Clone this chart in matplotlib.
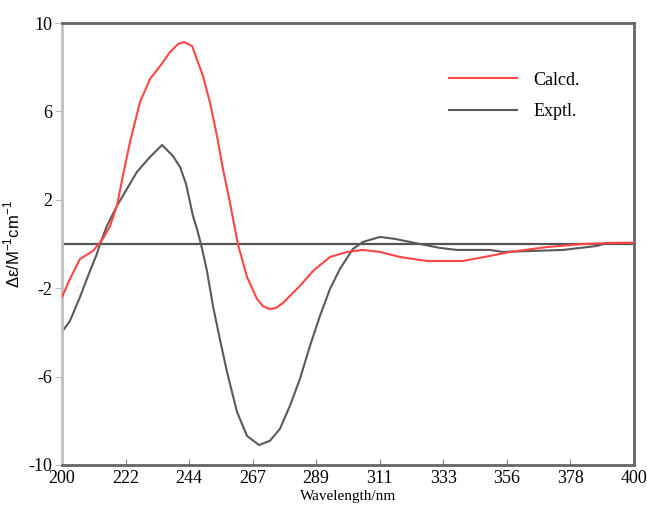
import numpy as np
import matplotlib.pyplot as plt

# 計算値 (Calcd.)
calcd_wl = [200, 202.8, 206.3, 210.8, 214.3, 216.8, 219.2, 221.3, 223.8, 227.3,
            230.8, 234.3, 237.8, 240.6, 242.7, 245.5, 249.3, 251.7, 254.2, 256.3,
            258.7, 261.5, 264.7, 268.2, 270.3, 272.4, 274.8, 277.3, 280.4, 283.2,
            287.8, 293.7, 299.7, 305.2, 311.2, 318.2, 327.6, 340.2, 349.7, 356.7,
            369.6, 382.2, 395.1, 400]
calcd_de = [-2.40, -1.58, -0.68, -0.32, 0.23, 0.81, 1.72, 3.08, 4.62, 6.43,
            7.47, 8.05, 8.69, 9.05, 9.14, 8.96, 7.60, 6.43, 4.89, 3.39,
            1.90, 0.0, -1.49, -2.49, -2.81, -2.94, -2.90, -2.67, -2.26, -1.90,
            -1.22, -0.59, -0.36, -0.27, -0.36, -0.59, -0.77, -0.77, -0.54, -0.36,
            -0.14, 0.0, 0.05, 0.05]

# 実験値 (Exptl.)
exptl_wl = [200, 202.8, 206.3, 209.8, 212.2, 213.3, 215.7, 219.2, 222.7, 226.2,
            230.8, 235.0, 238.8, 241.3, 243.4, 245.8, 247.2, 248.6, 250.7, 252.8,
            255.2, 257.7, 261.2, 264.7, 268.9, 272.7, 276.2, 279.7, 283.2, 286.7,
            290.2, 293.7, 297.2, 301.7, 305.2, 311.2, 316.4, 325.2, 332.2, 338.1,
            349.7, 354.2, 363.6, 375.2, 387.1, 390.6, 400]
exptl_de = [-3.98, -3.48, -2.40, -1.22, -0.45, 0.0, 0.81, 1.72, 2.49, 3.26,
            3.94, 4.48, 3.98, 3.48, 2.71, 1.27, 0.68, 0.0, -1.22, -2.81,
            -4.30, -5.79, -7.60, -8.69, -9.10, -8.91, -8.37, -7.33, -6.11, -4.62,
            -3.26, -2.04, -1.13, -0.23, 0.09, 0.32, 0.23, 0.0, -0.18, -0.27,
            -0.27, -0.36, -0.32, -0.27, -0.09, 0.05, 0.05]

x_tick_labels = ['200', '222', '244', '267', '289', '311', '333', '356', '378', '400']
y_ticks = [-10, -6, -2, 2, 6, 10]

serif = ['Liberation Serif', 'DejaVu Serif']

fig = plt.figure(figsize=(6.47, 5.12), dpi=100)
ax = fig.add_axes([0.0958, 0.092, 0.884, 0.863])

ax.axhline(0, color='#555555', lw=1.6, zorder=1)
ax.plot(calcd_wl, calcd_de, color='#ff4545', lw=1.5, label='Calcd.', zorder=3,
        solid_joinstyle='round')
ax.plot(exptl_wl, exptl_de, color='#5a5a5a', lw=1.5, label='Exptl.', zorder=2,
        solid_joinstyle='round')

ax.set_xlim(200, 400)
ax.set_ylim(-10, 10)
ax.set_xticks(np.linspace(200, 400, len(x_tick_labels)))
ax.set_xticklabels(x_tick_labels, fontfamily=serif, fontsize=13)
ax.set_yticks(y_ticks)
ax.set_yticklabels([str(v) for v in y_ticks], fontfamily=serif, fontsize=13)
ax.tick_params(axis='x', direction='in', length=4, color='#888888', pad=4)
ax.tick_params(axis='y', direction='out', length=5, color='#bbbbbb', pad=2)

for side in ['top', 'right', 'bottom']:
    ax.spines[side].set_color('#666666')
    ax.spines[side].set_linewidth(2)
ax.spines['left'].set_color('#c0c0c0')
ax.spines['left'].set_linewidth(2)

ax.set_xlabel('Wavelength/nm', fontfamily=serif, fontsize=11, labelpad=2)
ax.set_ylabel('Δε/M$^{\\mathregular{-1}}$cm$^{\\mathregular{-1}}$',
              fontfamily=['Liberation Sans', 'DejaVu Sans'], fontsize=12, labelpad=4)

ax.legend(loc='center', bbox_to_anchor=(0.795, 0.8125), bbox_transform=fig.transFigure,
          frameon=False, prop={'family': serif, 'size': 13},
          handlelength=3.8, handletextpad=0.9, labelspacing=0.8)

fig.savefig('out.png', dpi=100)
